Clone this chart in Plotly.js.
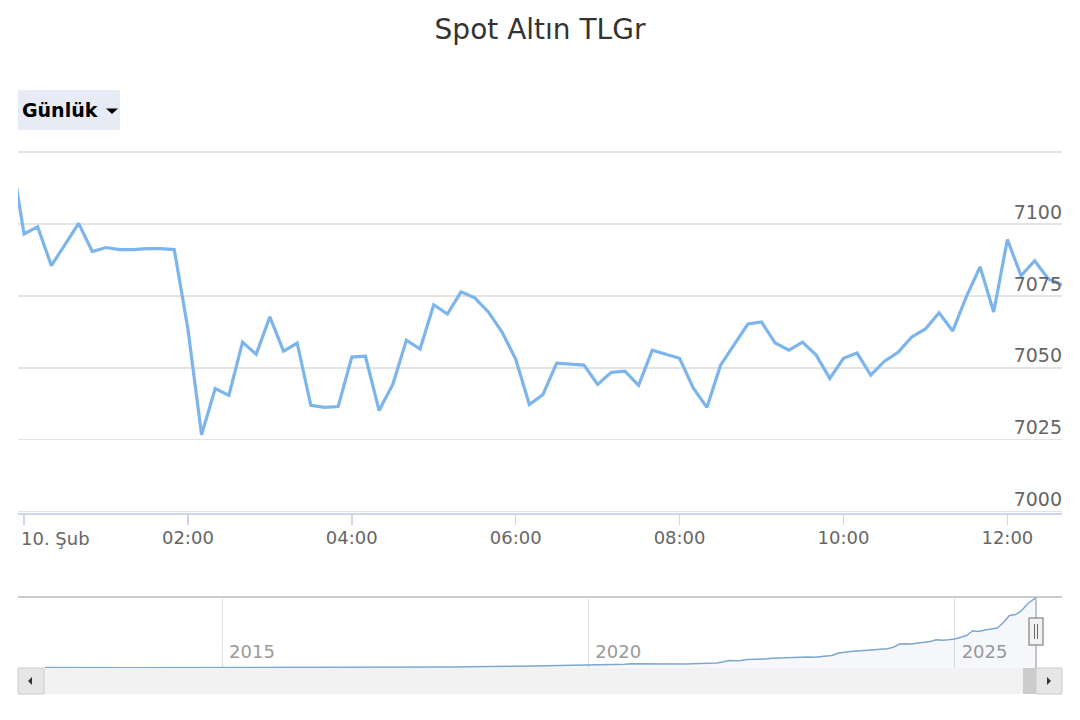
<!DOCTYPE html>
<html>
<head>
<meta charset="utf-8">
<script src="https://cdn.plot.ly/plotly-3.0.1.min.js"></script>
<style>html,body{margin:0;padding:0;background:#fff;}#chart{width:1080px;height:720px;}</style>
</head>
<body>
<div id="chart"></div>
<script>
// ---- Intraday data (10-minute points), Spot Altın TL/gr ----
const times = [
  '2026-02-09 23:50','2026-02-10 00:00','2026-02-10 00:10','2026-02-10 00:20','2026-02-10 00:30','2026-02-10 00:40','2026-02-10 00:50',
  '2026-02-10 01:00','2026-02-10 01:10','2026-02-10 01:20','2026-02-10 01:30','2026-02-10 01:40','2026-02-10 01:50',
  '2026-02-10 02:00','2026-02-10 02:10','2026-02-10 02:20','2026-02-10 02:30','2026-02-10 02:40','2026-02-10 02:50',
  '2026-02-10 03:00','2026-02-10 03:10','2026-02-10 03:20','2026-02-10 03:30','2026-02-10 03:40','2026-02-10 03:50',
  '2026-02-10 04:00','2026-02-10 04:10','2026-02-10 04:20','2026-02-10 04:30','2026-02-10 04:40','2026-02-10 04:50',
  '2026-02-10 05:00','2026-02-10 05:10','2026-02-10 05:20','2026-02-10 05:30','2026-02-10 05:40','2026-02-10 05:50',
  '2026-02-10 06:00','2026-02-10 06:10','2026-02-10 06:20','2026-02-10 06:30','2026-02-10 06:40','2026-02-10 06:50',
  '2026-02-10 07:00','2026-02-10 07:10','2026-02-10 07:20','2026-02-10 07:30','2026-02-10 07:40','2026-02-10 07:50',
  '2026-02-10 08:00','2026-02-10 08:10','2026-02-10 08:20','2026-02-10 08:30','2026-02-10 08:40','2026-02-10 08:50',
  '2026-02-10 09:00','2026-02-10 09:10','2026-02-10 09:20','2026-02-10 09:30','2026-02-10 09:40','2026-02-10 09:50',
  '2026-02-10 10:00','2026-02-10 10:10','2026-02-10 10:20','2026-02-10 10:30','2026-02-10 10:40','2026-02-10 10:50',
  '2026-02-10 11:00','2026-02-10 11:10','2026-02-10 11:20','2026-02-10 11:30','2026-02-10 11:40','2026-02-10 11:50',
  '2026-02-10 12:00','2026-02-10 12:10','2026-02-10 12:20','2026-02-10 12:30','2026-02-10 12:40'
];
const prices = [
  7126.0, 7096.5, 7099.0, 7085.5, 7092.8, 7100.2, 7090.4,
  7091.8, 7091.1, 7091.1, 7091.4, 7091.4, 7091.1,
  7063.5, 7026.7, 7042.8, 7040.4, 7058.9, 7054.7,
  7067.7, 7055.8, 7058.6, 7036.9, 7036.2, 7036.5,
  7053.7, 7054.0, 7035.1, 7044.2, 7059.6, 7056.5,
  7071.9, 7068.7, 7076.4, 7074.3, 7069.4, 7062.4,
  7053.0, 7037.2, 7040.7, 7051.6, 7051.2, 7050.9,
  7044.2, 7048.4, 7048.8, 7043.9, 7056.1, 7054.7,
  7053.3, 7043.0, 7036.2, 7050.9, 7058.2, 7065.2,
  7065.9, 7058.6, 7056.1, 7058.9, 7054.4, 7046.3,
  7053.3, 7055.1, 7047.4, 7052.3, 7055.4, 7060.7,
  7063.5, 7069.1, 7062.8, 7074.7, 7085.1, 7069.4,
  7094.6, 7082.0, 7087.2, 7080.9, 7078.8
];
const xTickVals = ['2026-02-10 00:00','2026-02-10 02:00','2026-02-10 04:00','2026-02-10 06:00','2026-02-10 08:00','2026-02-10 10:00','2026-02-10 12:00'];
const xTickText = ['', '02:00', '04:00', '06:00', '08:00', '10:00', '12:00'];
const firstDayLabel = '10. Şub';
const yTickVals = [7000, 7025, 7050, 7075, 7100, 7125];
const yTickText = ['7000', '7025', '7050', '7075', '7100', ''];

// ---- Navigator (long-term, monthly, TL/gr) ----
const navFirstMonth = [2012, 8];
const navValues = [
  96, 101, 100, 100, 98,
  97, 95, 92, 86, 82, 81, 80, 86, 85, 84, 84, 83,
  88, 92, 92, 89, 88, 89, 90, 90, 89, 88, 85, 88,
  98, 97, 96, 96, 96, 98, 97, 100, 104, 102, 100, 98,
  101, 108, 114, 112, 113, 117, 124, 124, 123, 124, 126, 128,
  135, 136, 137, 140, 139, 138, 137, 140, 140, 146, 148, 150,
  154, 155, 162, 170, 185, 188, 195, 230, 255, 235, 212, 210,
  218, 218, 230, 236, 245, 258, 266, 285, 287, 285, 282, 285,
  296, 312, 325, 352, 372, 380, 415, 470, 465, 485, 440, 430,
  440, 430, 410, 420, 455, 480, 490, 490, 500, 540, 650, 790,
  780, 800, 900, 900, 920, 960, 1020, 1050, 1070, 1070, 1080, 1110,
  1160, 1130, 1180, 1260, 1310, 1550, 1640, 1700, 1750, 1800, 1860, 1920,
  1950, 1980, 2120, 2440, 2480, 2460, 2560, 2610, 2700, 2870, 2820, 2880,
  2960, 3120, 3300, 3780, 3700, 3860, 3920, 4050, 4600, 5300, 5400, 5800,
  6500, 7080
];
const navLastDate = '2026-02-10';

// build navigator month dates (last point is today)
const navDates = [];
{
  let y = navFirstMonth[0], m = navFirstMonth[1];
  for (let i = 0; i < navValues.length; i++) {
    if (i === navValues.length - 1) { navDates.push(navLastDate); break; }
    navDates.push(y + '-' + String(m).padStart(2, '0') + '-01');
    m++; if (m > 12) { m = 1; y++; }
  }
}

const W = 1080, H = 720;
const px = x => x / W;
const py = y => 1 - y / H;
const FONT = 'DejaVu Sans, Verdana, sans-serif';

const traces = [
  {
    x: times, y: prices, type: 'scatter', mode: 'lines',
    line: {color: '#7cb5ec', width: 3.2},
    xaxis: 'x', yaxis: 'y', hoverinfo: 'skip', showlegend: false
  },
  {
    x: navDates, y: navValues, type: 'scatter', mode: 'lines',
    line: {color: '#7ea7cf', width: 1.5},
    fill: 'tozeroy', fillcolor: 'rgba(51,92,173,0.05)',
    xaxis: 'x2', yaxis: 'y2', hoverinfo: 'skip', showlegend: false
  }
];

const shapes = [
  // Günlük button
  {type: 'rect', xref: 'paper', yref: 'paper', x0: px(18), x1: px(120), y0: py(130), y1: py(90),
   fillcolor: '#e6ebf5', line: {width: 0}, layer: 'below'},
  {type: 'path', xref: 'paper', yref: 'paper',
   path: `M ${px(106)},${py(108.5)} L ${px(118)},${py(108.5)} L ${px(112)},${py(114)} Z`,
   fillcolor: '#000', line: {width: 0}},
  // navigator outline
  {type: 'line', xref: 'paper', yref: 'paper', x0: px(18), x1: px(1062), y0: py(597), y1: py(597),
   line: {color: '#cccccc', width: 2}},
  {type: 'line', xref: 'paper', yref: 'paper', x0: px(1036), x1: px(1036), y0: py(597), y1: py(668),
   line: {color: '#b0b0b0', width: 1.5}},
  // scrollbar track
  {type: 'rect', xref: 'paper', yref: 'paper', x0: px(44), x1: px(1036), y0: py(694), y1: py(668),
   fillcolor: '#f2f2f2', line: {width: 0}},
  // thumb
  {type: 'rect', xref: 'paper', yref: 'paper', x0: px(1023), x1: px(1036), y0: py(694), y1: py(668),
   fillcolor: '#cccccc', line: {width: 0}},
  // buttons
  {type: 'rect', xref: 'paper', yref: 'paper', x0: px(18), x1: px(44), y0: py(694), y1: py(668),
   fillcolor: '#e6e6e6', line: {color: '#cccccc', width: 1}},
  {type: 'rect', xref: 'paper', yref: 'paper', x0: px(1036), x1: px(1062), y0: py(694), y1: py(668),
   fillcolor: '#e6e6e6', line: {color: '#cccccc', width: 1}},
  {type: 'path', xref: 'paper', yref: 'paper',
   path: `M ${px(28)},${py(681)} L ${px(32)},${py(677)} L ${px(32)},${py(685)} Z`,
   fillcolor: '#333', line: {width: 0}},
  {type: 'path', xref: 'paper', yref: 'paper',
   path: `M ${px(1051)},${py(681)} L ${px(1047)},${py(677)} L ${px(1047)},${py(685)} Z`,
   fillcolor: '#333', line: {width: 0}},
  // handle
  {type: 'rect', xref: 'paper', yref: 'paper', x0: px(1029), x1: px(1043), y0: py(645), y1: py(618),
   fillcolor: '#f2f2f2', line: {color: '#999999', width: 1.5}},
  {type: 'line', xref: 'paper', yref: 'paper', x0: px(1034.5), x1: px(1034.5), y0: py(624), y1: py(639),
   line: {color: '#666', width: 1}},
  {type: 'line', xref: 'paper', yref: 'paper', x0: px(1037.5), x1: px(1037.5), y0: py(624), y1: py(639),
   line: {color: '#666', width: 1}}
];

const layout = {
  width: W, height: H,
  margin: {l: 0, r: 0, t: 0, b: 0},
  paper_bgcolor: '#ffffff', plot_bgcolor: 'rgba(0,0,0,0)',
  font: {family: FONT, color: '#666'},
  showlegend: false,
  title: {text: 'Spot Altın TLGr', font: {family: FONT, size: 28, color: '#333'},
          x: 0.5, xanchor: 'center', y: py(29), yanchor: 'middle', yref: 'container'},
  xaxis: {
    type: 'date', domain: [px(18), px(1062)],
    range: ['2026-02-09 23:55:36', '2026-02-10 12:40:00'],
    tickvals: xTickVals, ticktext: xTickText,
    ticks: 'outside', ticklen: 10, tickwidth: 1.5, tickcolor: '#ccd6eb',
    ticklabelstandoff: -3,
    showline: true, linecolor: '#ccd6eb', linewidth: 2,
    showgrid: false, zeroline: false,
    tickfont: {family: FONT, size: 18, color: '#666'},
    anchor: 'y', fixedrange: true
  },
  yaxis: {
    domain: [py(513), py(150.6)],
    range: [6999.5, 7125.5],
    side: 'right', ticklabelposition: 'inside',
    tickvals: yTickVals, ticktext: yTickText,
    ticks: '', ticklabelshift: -12, ticklabelstandoff: -3,
    showgrid: true, gridcolor: '#e3e3e3', gridwidth: 1.5,
    showline: false, zeroline: false,
    tickfont: {family: FONT, size: 19, color: '#666'},
    anchor: 'x', fixedrange: true
  },
  xaxis2: {
    type: 'date', domain: [px(44), px(1036)],
    range: ['2012-07-27', '2026-02-10 12:40'],
    tick0: '2015-01-01', dtick: 'M60', tickformat: '%Y',
    ticks: '', ticklabelposition: 'inside right', ticklabelshift: 7,
    showgrid: true, gridcolor: '#e0e0e0', gridwidth: 1,
    showline: false, zeroline: false,
    tickfont: {family: FONT, size: 18, color: '#999'},
    anchor: 'y2', fixedrange: true
  },
  yaxis2: {
    domain: [py(668), py(597)],
    range: [50, 7150],
    visible: false, showgrid: false, zeroline: false,
    anchor: 'x2', fixedrange: true
  },
  shapes: shapes,
  annotations: [
    {text: '<b>Günlük</b>', xref: 'paper', yref: 'paper', x: px(20), y: py(110),
     xanchor: 'left', yanchor: 'middle', showarrow: false,
     font: {family: FONT, size: 19, color: '#000'}},
    {text: firstDayLabel, xref: 'x', yref: 'paper', x: xTickVals[0], y: py(538),
     xanchor: 'left', yanchor: 'middle', showarrow: false, xshift: -5,
     font: {family: FONT, size: 18, color: '#666'}}
  ]
};

Plotly.newPlot('chart', traces, layout, {displayModeBar: false, staticPlot: true});
</script>
</body>
</html>
